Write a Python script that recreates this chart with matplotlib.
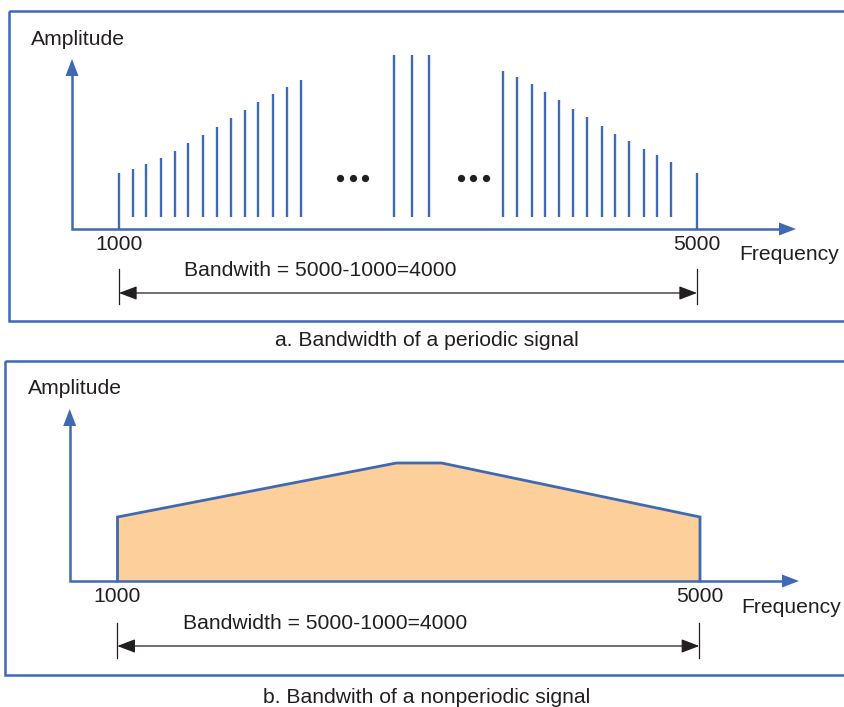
import matplotlib
matplotlib.use('Agg')
import matplotlib.pyplot as plt
from matplotlib.transforms import Affine2D
from matplotlib.patches import Rectangle, FancyArrowPatch, Polygon
from matplotlib.lines import Line2D

W, H = 844, 707
BLUE = '#3F69B5'
FILL = '#FCCF9B'
INK = '#231F20'
FONT = 'Liberation Sans'
FS = 15.2

# ---------------- data ----------------
# a. periodic signal: discrete spectral lines (frequency in Hz, amplitude arbitrary units)
freq_low = [1000, 1095, 1190, 1290, 1385, 1480, 1580, 1675, 1775, 1870, 1965, 2065, 2160, 2260]
amp_low = [56, 60, 65, 71, 78, 86, 94, 102, 111, 119, 127, 135, 142, 149]
freq_mid = [2905, 3025, 3145]
amp_mid = [174, 174, 174]
freq_high = [3660, 3755, 3855, 3950, 4045, 4145, 4240, 4340, 4435, 4530, 4630, 4725, 4820, 5000]
amp_high = [158, 152, 145, 137, 129, 120, 112, 103, 95, 88, 80, 74, 67, 56]
# b. nonperiodic signal: continuous spectrum outline
nonper_freq = [1000, 1000, 2915, 3225, 5000, 5000]
nonper_amp = [0, 64, 118, 118, 64, 0]

tick_freqs = [1000, 5000]
tick_labels = ['1000', '5000']
bw_text_a = 'Bandwith = 5000-1000=4000'
bw_text_b = 'Bandwidth = 5000-1000=4000'
caption_a = 'a. Bandwidth of a periodic signal'
caption_b = 'b. Bandwith of a nonperiodic signal'

fig = plt.figure(figsize=(W / 100, H / 100), dpi=100)
fig.patch.set_facecolor('white')
P = Affine2D().scale(1 / W, -1 / H).translate(0, 1) + fig.transFigure


def make_axes(top_px, bot_px, axis_y_px, f1_px, f5_px):
    ax = fig.add_axes([0, 1 - bot_px / H, 1, (bot_px - top_px) / H])
    s = (f5_px - f1_px) / 4000.0
    ax.set_xlim(1000 - f1_px / s, 1000 + (W - f1_px) / s)
    ax.set_ylim(-(bot_px - axis_y_px), axis_y_px - top_px)
    ax.axis('off')
    ax.patch.set_alpha(0)
    return ax


def axes_arrows(x0, y0, ytip, xtip):
    hl, hw = 17, 6.5
    fig.add_artist(Line2D([x0, x0, xtip - hl + 2], [ytip + hl - 2, y0, y0],
                          transform=P, color=BLUE, lw=1.8,
                          solid_joinstyle='miter', solid_capstyle='butt'))
    fig.add_artist(Polygon([[x0, ytip], [x0 - hw, ytip + hl], [x0 + hw, ytip + hl]],
                           closed=True, transform=P, color=BLUE, lw=0))
    fig.add_artist(Polygon([[xtip, y0], [xtip - hl, y0 - hw], [xtip - hl, y0 + hw]],
                           closed=True, transform=P, color=BLUE, lw=0))


def bw_arrow(xa, xb, y, t0, t1):
    fig.add_artist(FancyArrowPatch((xa, y), (xb, y), transform=P,
                                   arrowstyle='<|-|>,head_length=1.1,head_width=0.42',
                                   mutation_scale=10, color=INK, lw=0.9,
                                   shrinkA=0, shrinkB=0))
    for x in (xa, xb):
        fig.add_artist(Line2D([x, x], [t0, t1], transform=P, color=INK, lw=0.9))


def ptext(x, y, s, ha='left'):
    fig.text(x / W, 1 - y / H, s, ha=ha, va='baseline', fontsize=FS,
             family=FONT, color=INK)


# ---------------- panel a ----------------
fig.add_artist(Rectangle((9, 11), 850, 310, transform=P, fill=False,
                         edgecolor=BLUE, lw=1.8))
axA = make_axes(0, 350, 229, 119, 697)
gap = 12
freqs_a = freq_low + freq_mid + freq_high
amps_a = amp_low + amp_mid + amp_high
for f, a in zip(freqs_a, amps_a):
    base = 0 if f in tick_freqs else gap
    axA.vlines(f, base, a, color=BLUE, lw=1.7)
axes_arrows(72, 229, 59, 796)
for x in (340, 352.5, 365, 460.7, 473.3, 486):
    fig.add_artist(Line2D([x], [177.5], transform=P, marker='o', ms=4.2,
                          color=INK, lw=0))
for f, lab in zip(tick_freqs, tick_labels):
    axA.text(f, -21, lab, ha='center', va='baseline', fontsize=FS,
             family=FONT, color=INK)
ptext(31, 45, 'Amplitude')
ptext(739, 260, 'Frequency')
ptext(184, 276, bw_text_a)
bw_arrow(119, 697, 293, 269, 304)
ptext(427, 346, caption_a, ha='center')

# ---------------- panel b ----------------
fig.add_artist(Rectangle((5, 361), 850, 314, transform=P, fill=False,
                         edgecolor=BLUE, lw=1.8))
axB = make_axes(350, 707, 581, 117.5, 700)
axB.fill(nonper_freq, nonper_amp, facecolor=FILL, edgecolor='none')
axB.plot(nonper_freq, nonper_amp, color=BLUE, lw=2.0, solid_joinstyle='miter')
axes_arrows(69.7, 581, 409, 799)
for f, lab in zip(tick_freqs, tick_labels):
    axB.text(f, -21.3, lab, ha='center', va='baseline', fontsize=FS,
             family=FONT, color=INK)
ptext(28, 394, 'Amplitude')
ptext(741.7, 612.7, 'Frequency')
ptext(182.7, 629, bw_text_b)
bw_arrow(117.3, 699.3, 646, 622.7, 658)
ptext(427, 703, caption_b, ha='center')

fig.savefig('out.png', dpi=100, facecolor='white')
